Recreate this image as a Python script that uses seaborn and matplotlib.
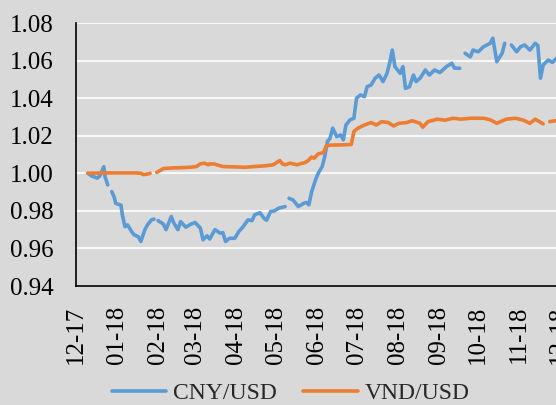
import numpy as np
import pandas as pd
import seaborn as sns
import matplotlib.pyplot as plt
import matplotlib.dates as mdates

# values (NaN = missing day, breaks the line)
cny_dates = ['2017-12-10', '2017-12-13', '2017-12-16', '2017-12-17', '2017-12-19', '2017-12-22',
             '2017-12-23', '2017-12-25', '2017-12-27', '2017-12-28', '2017-12-30', '2017-12-31',
             '2018-01-04', '2018-01-05', '2018-01-07', '2018-01-09', '2018-01-12', '2018-01-14',
             '2018-01-17', '2018-01-19', '2018-01-22', '2018-01-24', '2018-01-27', '2018-01-29',
             '2018-01-31', '2018-02-01', '2018-02-05', '2018-02-07', '2018-02-11', '2018-02-13',
             '2018-02-16', '2018-02-18', '2018-02-22', '2018-02-26', '2018-03-01', '2018-03-05',
             '2018-03-07', '2018-03-10', '2018-03-12', '2018-03-16', '2018-03-20', '2018-03-22',
             '2018-03-24', '2018-03-27', '2018-03-31', '2018-04-03', '2018-04-06', '2018-04-10',
             '2018-04-13', '2018-04-15', '2018-04-19', '2018-04-22', '2018-04-24', '2018-04-27',
             '2018-04-30', '2018-05-03', '2018-05-08', '2018-05-10', '2018-05-11', '2018-05-14',
             '2018-05-18', '2018-05-22', '2018-05-24', '2018-05-26', '2018-05-28', '2018-05-31',
             '2018-06-02', '2018-06-05', '2018-06-07', '2018-06-09', '2018-06-11', '2018-06-13',
             '2018-06-16', '2018-06-19', '2018-06-21', '2018-06-23', '2018-06-26', '2018-06-29',
             '2018-07-01', '2018-07-04', '2018-07-07', '2018-07-09', '2018-07-12', '2018-07-15',
             '2018-07-18', '2018-07-21', '2018-07-24', '2018-07-26', '2018-07-28', '2018-07-30',
             '2018-08-03', '2018-08-05', '2018-08-07', '2018-08-10', '2018-08-13', '2018-08-15',
             '2018-08-18', '2018-08-22', '2018-08-25', '2018-08-29', '2018-09-02', '2018-09-07',
             '2018-09-11', '2018-09-13', '2018-09-17', '2018-09-19', '2018-09-21', '2018-09-25',
             '2018-09-27', '2018-10-01', '2018-10-05', '2018-10-10', '2018-10-12', '2018-10-15',
             '2018-10-19', '2018-10-21', '2018-10-23', '2018-10-26', '2018-10-30', '2018-11-02',
             '2018-11-05', '2018-11-09', '2018-11-13', '2018-11-15', '2018-11-17', '2018-11-19',
             '2018-11-21', '2018-11-23', '2018-11-26', '2018-11-29']
cny_rate = [1.0000, 0.9985, 0.9978, 0.9974, 0.9985, 1.0035,
            0.9980, 0.9938, np.nan, 0.9903, 0.9870, 0.9840,
            0.9830, 0.9779, 0.9716, 0.9725, 0.9690, 0.9672,
            0.9663, 0.9637, 0.9699, 0.9725, 0.9752, 0.9756,
            np.nan, 0.9748, 0.9730, 0.9700, 0.9770, 0.9734,
            0.9700, 0.9743, 0.9713, 0.9730, 0.9738, 0.9708,
            0.9646, 0.9667, 0.9650, 0.9700, 0.9681, 0.9684,
            0.9637, 0.9654, 0.9654, 0.9690, 0.9713, 0.9752,
            0.9748, 0.9779, 0.9790, 0.9761, 0.9750, 0.9796,
            0.9800, 0.9814, 0.9823, np.nan, 0.9867, 0.9858,
            0.9823, 0.9840, 0.9845, 0.9832, 0.9900, 0.9965,
            1.0000, 1.0035, 1.0089, 1.0169, 1.0187, 1.0240,
            1.0195, 1.0204, 1.0178, 1.0257, 1.0284, 1.0293,
            1.0400, 1.0417, 1.0408, 1.0461, 1.0470, 1.0506,
            1.0523, 1.0488, 1.0532, 1.0586, 1.0656, 1.0568,
            1.0532, 1.0568, 1.0452, 1.0461, 1.0523, 1.0488,
            1.0506, 1.0550, 1.0523, 1.0550, 1.0536, 1.0568,
            1.0586, 1.0560, 1.0559, np.nan, 1.0639, 1.0620,
            1.0656, 1.0647, 1.0674, 1.0692, 1.0719, 1.0594,
            1.0639, 1.0692, np.nan, 1.0683, 1.0647, 1.0674,
            1.0683, 1.0656, 1.0692, 1.0680, 1.0506, 1.0577,
            1.0590, 1.0603, 1.0590, 1.0612]

vnd_dates = ['2017-12-10', '2017-12-21', '2018-01-05', '2018-01-15', '2018-01-19', '2018-01-21',
             '2018-01-24', '2018-01-26', '2018-01-28', '2018-01-31', '2018-02-05', '2018-02-10',
             '2018-02-18', '2018-02-25', '2018-03-02', '2018-03-05', '2018-03-08', '2018-03-11',
             '2018-03-12', '2018-03-15', '2018-03-22', '2018-03-31', '2018-04-08', '2018-04-15',
             '2018-04-23', '2018-04-29', '2018-05-04', '2018-05-06', '2018-05-08', '2018-05-12',
             '2018-05-17', '2018-05-19', '2018-05-23', '2018-05-25', '2018-05-28', '2018-05-30',
             '2018-06-02', '2018-06-06', '2018-06-08', '2018-06-11', '2018-06-19', '2018-06-27',
             '2018-06-29', '2018-07-02', '2018-07-07', '2018-07-12', '2018-07-16', '2018-07-20',
             '2018-07-25', '2018-07-29', '2018-08-02', '2018-08-08', '2018-08-12', '2018-08-18',
             '2018-08-20', '2018-08-24', '2018-08-31', '2018-09-06', '2018-09-12', '2018-09-18',
             '2018-09-25', '2018-10-05', '2018-10-10', '2018-10-15', '2018-10-22', '2018-10-29',
             '2018-11-04', '2018-11-09', '2018-11-13', '2018-11-19', '2018-11-22', '2018-11-24',
             '2018-11-29']
vnd_rate = [1.0000, 1.0002, 1.0002, 1.0002, 1.0000, 0.9993,
            0.9996, 1.0000, np.nan, 1.0005, 1.0025, 1.0028,
            1.0030, 1.0032, 1.0036, 1.0050, 1.0054, 1.0045,
            1.0050, 1.0050, 1.0036, 1.0034, 1.0032, 1.0036,
            1.0040, 1.0045, 1.0068, 1.0050, 1.0045, 1.0054,
            1.0045, 1.0050, 1.0057, 1.0065, 1.0086, 1.0080,
            1.0103, 1.0110, 1.0145, 1.0150, 1.0151, 1.0153,
            1.0222, 1.0240, 1.0257, 1.0270, 1.0257, 1.0275,
            1.0270, 1.0252, 1.0266, 1.0270, 1.0280, 1.0266,
            1.0245, 1.0275, 1.0288, 1.0283, 1.0293, 1.0288,
            1.0293, 1.0293, 1.0285, 1.0266, 1.0288, 1.0293,
            1.0283, 1.0266, 1.0288, 1.0263, np.nan, 1.0275,
            1.0280]

series_names = ['CNY/USD', 'VND/USD']
series_colors = ['#5b9bd5', '#ed7d31']
y_ticks = [0.94, 0.96, 0.98, 1.00, 1.02, 1.04, 1.06, 1.08]


def to_frame(dates, rates, name):
    df = pd.DataFrame({'date': pd.to_datetime(dates), 'rate': rates})
    # every run of valid days gets its own unit so gaps stay visible
    df['segment'] = name + df['rate'].isna().cumsum().astype(str)
    df['pair'] = name
    return df.dropna()


data = pd.concat([to_frame(cny_dates, cny_rate, series_names[0]),
                  to_frame(vnd_dates, vnd_rate, series_names[1])], ignore_index=True)

bg = '#d9d9d9'
sns.set_style('white', {'axes.facecolor': bg, 'figure.facecolor': bg})
plt.rcParams['font.family'] = ['Liberation Serif', 'DejaVu Serif']

fig = plt.figure(figsize=(5.56, 4.05), dpi=100)
ax = fig.add_axes([0.1367, 0.2938, 0.8687, 0.6494])

sns.lineplot(data=data, x='date', y='rate', hue='pair', hue_order=series_names,
             units='segment', estimator=None, palette=series_colors,
             linewidth=2.6, solid_capstyle='round', solid_joinstyle='round', ax=ax)

ax.set_xlim(pd.Timestamp('2017-12-01'), pd.Timestamp('2018-12-01'))
ax.set_ylim(0.94, 1.08)
ax.set_yticks(y_ticks)
ax.yaxis.set_major_formatter(plt.FormatStrFormatter('%.2f'))
ax.xaxis.set_major_locator(mdates.MonthLocator())
ax.xaxis.set_major_formatter(mdates.DateFormatter('%m-%y'))

ax.grid(axis='y', color='white', linewidth=1.2)
ax.set_axisbelow(True)
for side in ['top', 'right']:
    ax.spines[side].set_visible(False)
for side in ['left', 'bottom']:
    ax.spines[side].set_color('black')
    ax.spines[side].set_linewidth(1.2)

ax.tick_params(axis='y', length=0, pad=16, labelsize=18, colors='black')
ax.tick_params(axis='x', direction='out', length=5, width=1.2, pad=9,
               labelsize=18, labelrotation=90, colors='black')
ax.set_xlabel('')
ax.set_ylabel('')

handles, labels = ax.get_legend_handles_labels()
ax.get_legend().remove()
fig.legend(handles, labels, loc='center', bbox_to_anchor=(0.523, 0.028), ncol=2,
           frameon=False, fontsize=17, handlelength=2.3, handletextpad=0.3,
           columnspacing=1.1)

fig.savefig('out.png', dpi=100, facecolor=bg)
